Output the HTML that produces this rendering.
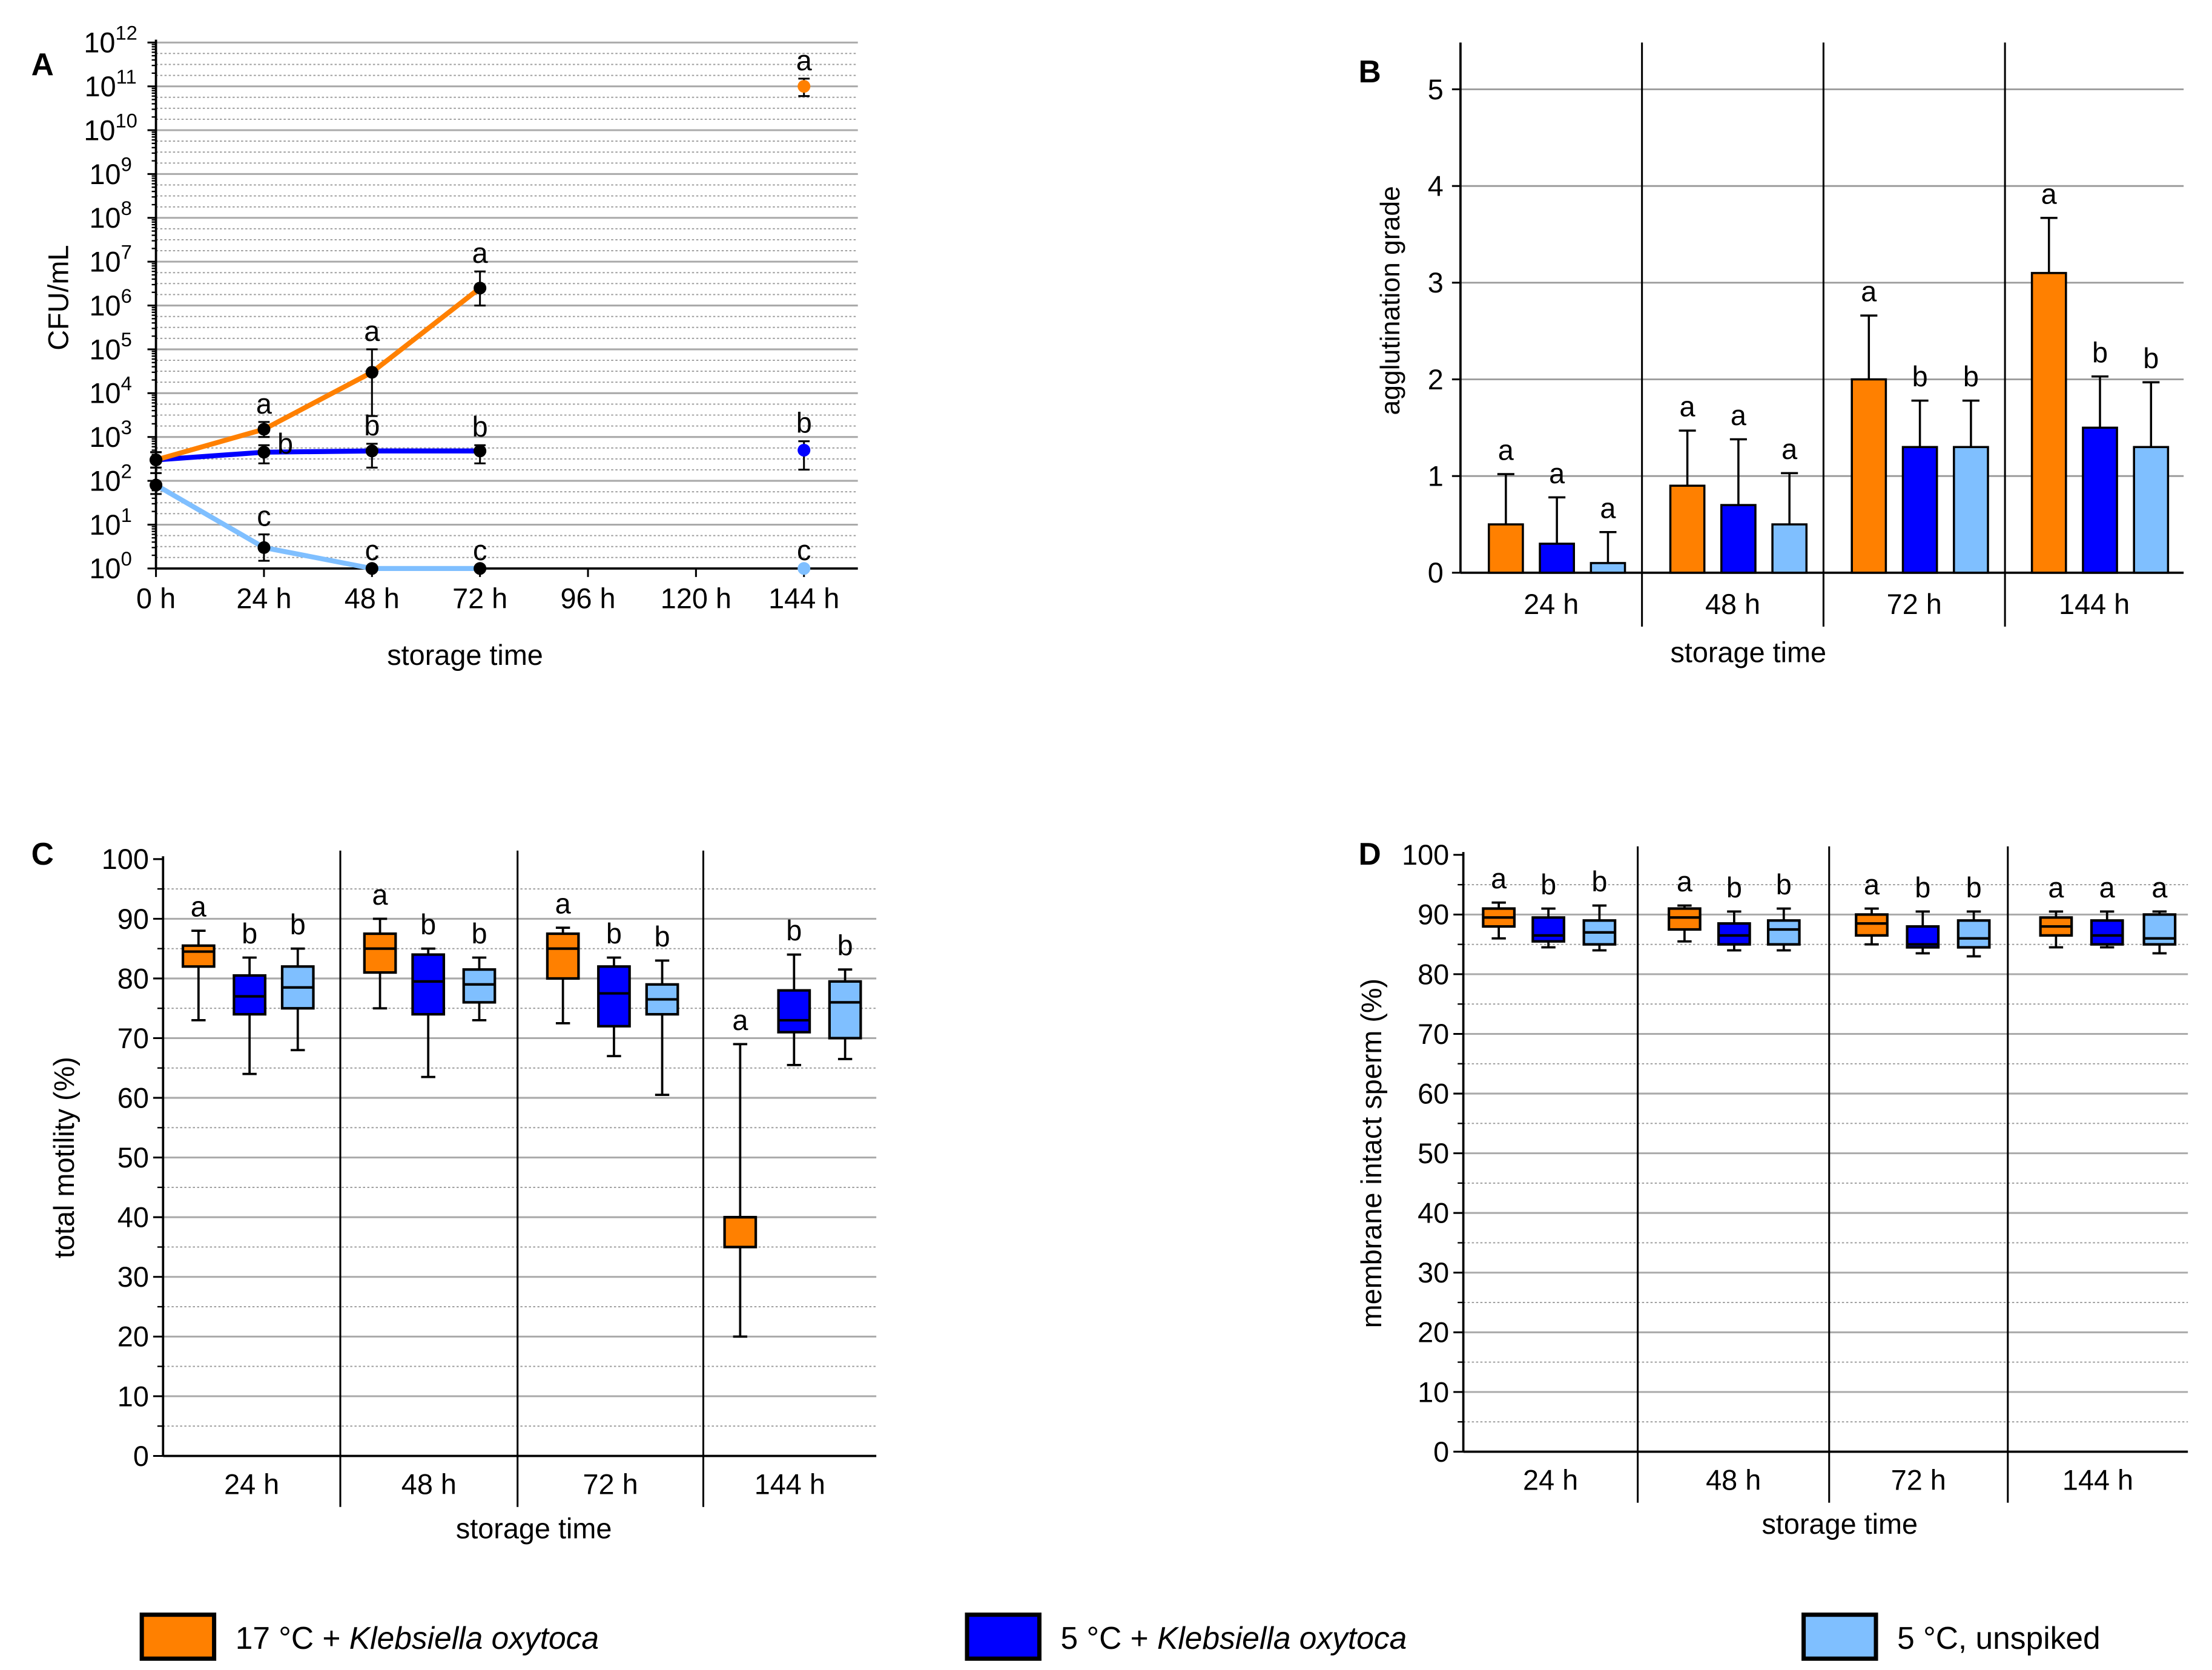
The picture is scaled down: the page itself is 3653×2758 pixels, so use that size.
<!DOCTYPE html>
<html><head><meta charset="utf-8"><style>
html,body{margin:0;padding:0;background:#fff}
svg{display:block;font-family:"Liberation Sans",Arial,sans-serif}
</style></head><body>
<svg id="fig" width="3653" height="2758" viewBox="0 0 1560 1178" preserveAspectRatio="none" xmlns="http://www.w3.org/2000/svg">
<rect width="1560" height="1178" fill="#fff"/>
<g id="A"></g>
<g id="B"></g>
<g id="C"></g>
<g id="D"></g>
<g id="L"></g>
</svg>
<script>
const colors=['#ff8000','#0000ff','#7fbfff'];
const seriesNames=['17 °C + ','5 °C + ','5 °C, unspiked'];
// Panel A
const aHours=[0,24,48,72];
const aOrange=[300,1500,30000,2500000];
const aBlue=[300,450,480,480];
const aLight=[80,3,1,1];
const aOrangeHi=[450,2200,100000,6000000];
const aOrangeLo=[200,1000,3000,1000000];
const aBlueHi=[450,650,700,650];
const aBlueLo=[200,250,200,250];
const aLightHi=[150,6,1,1];
const aLightLo=[50,1.5,1,1];
const aEnd=[1e11,500,1];
const aEndHi=[1.5e11,800,1];
const aEndLo=[6e10,180,1];
const aLetters=[['','a','a','a'],['','b','b','b'],['','c','c','c']];
const aEndLetters=['a','b','c'];
const aXTicks=[0,24,48,72,96,120,144];
// Panel B
const bGroups=['24 h','48 h','72 h','144 h'];
const bMeans=[[0.5,0.9,2.0,3.1],[0.3,0.7,1.3,1.5],[0.1,0.5,1.3,1.3]];
const bErr=[[1.02,1.47,2.66,3.67],[0.78,1.38,1.78,2.03],[0.42,1.03,1.78,1.97]];
const bLetters=[['a','a','a','a'],['a','a','b','b'],['a','a','b','b']];
// Panel C  [min,q1,med,q3,max]
const cBoxes=[
 [[73,82,84.5,85.5,88],[64,74,77,80.5,83.5],[68,75,78.5,82,85]],
 [[75,81,85,87.5,90],[63.5,74,79.5,84,85],[73,76,79,81.5,83.5]],
 [[72.5,80,85,87.5,88.5],[67,72,77.5,82,83.5],[60.5,74,76.5,79,83]],
 [[20,35,40,40,69],[65.5,71,73,78,84],[66.5,70,76,79.5,81.5]]];
const cLetters=[['a','b','b'],['a','b','b'],['a','b','b'],['a','b','b']];
// Panel D
const dBoxes=[
 [[86,88,89.5,91,92],[84.5,85.5,86.5,89.5,91],[84,85,87,89,91.5]],
 [[85.5,87.5,89.5,91,91.5],[84,85,86.5,88.5,90.5],[84,85,87.5,89,91]],
 [[85,86.5,88.5,90,91],[83.5,84.5,85,88,90.5],[83,84.5,86,89,90.5]],
 [[84.5,86.5,88,89.5,90.5],[84.5,85,86.5,89,90.5],[83.5,85,86,90,90.5]]];
const dLetters=[['a','b','b'],['a','b','b'],['a','b','b'],['a','a','a']];
const pctTicks=[0,10,20,30,40,50,60,70,80,90,100];

const NS='http://www.w3.org/2000/svg';
function el(p,tag,a,txt){const e=document.createElementNS(NS,tag);for(const k in a)e.setAttribute(k,a[k]);if(txt!==undefined)e.textContent=txt;p.appendChild(e);return e;}
function line(p,x1,y1,x2,y2,st,w,dash){const e=el(p,'line',{x1,y1,x2,y2,stroke:st,'stroke-width':w||1});if(dash)e.setAttribute('stroke-dasharray',dash);return e;}
function txt(p,x,y,s,size,anchor,extra){const e=el(p,'text',Object.assign({x,y,'font-size':size,'text-anchor':anchor||'middle',fill:'#000'},extra||{}),s);return e;}

// ---------- Panel A
(function(){
const g=document.getElementById('A');
const x0=110,xr=605,yTop=30,yBot=401;
const X=h=>x0+h*(567-x0)/144;
const Y=v=>yBot-Math.log10(v)*(yBot-yTop)/12;
for(let d=0;d<12;d++){for(const f of [0.25,0.5,0.75]){const y=yBot-(d+f)*(yBot-yTop)/12;const l=line(g,x0,y,xr,y,'#999',0.8,'1.5,1.5');}}
for(let d=1;d<=12;d++){const y=Y(Math.pow(10,d));const l=line(g,x0,y,xr,y,'#aaa',1.3);}
line(g,x0,yTop-2,x0,yBot,'#000',1.6);line(g,x0,yBot,xr,yBot,'#000',1.6);
for(let d=0;d<=12;d++){const y=Y(Math.pow(10,d));line(g,x0-6,y,x0,y,'#000',1.3);
 const t=el(g,'text',{x:x0-32,y:y+7,'font-size':20,'text-anchor':'middle'});
 el(t,'tspan',{},'10');el(t,'tspan',{dy:-9,'font-size':14},String(d));
 for(let m=2;m<10;m++){const ym=Y(m*Math.pow(10,d));if(d<12)line(g,x0-3,ym,x0,ym,'#000',1);}}
aXTicks.forEach(h=>{line(g,X(h),yBot,X(h),yBot+6,'#000',1.3);const t=txt(g,X(h),yBot+28,h+' h',20);});
const xt=txt(g,328,469,'storage time',20);
const yt=txt(g,0,0,'CFU/mL',20,'middle',{transform:'translate(48,210) rotate(-90)'});
const pl=txt(g,30,53,'A',22,'middle',{'font-weight':'bold'});
const S=[aOrange,aBlue,aLight],Hi=[aOrangeHi,aBlueHi,aLightHi],Lo=[aOrangeLo,aBlueLo,aLightLo];
[2,1,0].forEach(s=>{const pts=aHours.map((h,i)=>X(h)+','+Y(S[s][i])).join(' ');
 const p=el(g,'polyline',{points:pts,fill:'none',stroke:colors[s],'stroke-width':3.5});});
[0,1,2].forEach(s=>{aHours.forEach((h,i)=>{const x=X(h);const hi=Hi[s][i],lo=Lo[s][i];
 if(hi>S[s][i]){line(g,x,Y(S[s][i]),x,Y(hi),'#000',1.3);line(g,x-4,Y(hi),x+4,Y(hi),'#000',1.3);}
 if(lo<S[s][i]){line(g,x,Y(S[s][i]),x,Y(lo),'#000',1.3);line(g,x-4,Y(lo),x+4,Y(lo),'#000',1.3);}
 const c=el(g,'circle',{cx:x,cy:Y(S[s][i]),r:4.5,fill:'#000'});
 const L=aLetters[s][i];if(L){let lx=x,ly=Y(Math.max(hi,S[s][i]))-6;if(s===1&&i===1){lx=x+15;ly=Y(S[s][i])+1;}const t=txt(g,lx,ly,L,20);}});
 const x=X(144),v=aEnd[s];
 if(aEndHi[s]>v){line(g,x,Y(v),x,Y(aEndHi[s]),'#000',1.3);line(g,x-4,Y(aEndHi[s]),x+4,Y(aEndHi[s]),'#000',1.3);line(g,x,Y(v),x,Y(aEndLo[s]),'#000',1.3);line(g,x-4,Y(aEndLo[s]),x+4,Y(aEndLo[s]),'#000',1.3);}
 const c=el(g,'circle',{cx:x,cy:Y(v),r:4.5,fill:colors[s]});
 const t=txt(g,x,Y(aEndHi[s])-6,aEndLetters[s],20);});
})();

// ---------- Panel B
(function(){
const g=document.getElementById('B');
const x0=1030,xr=1540,yTop=30,yBot=404;
const Y=v=>yBot-v*68.2;
const seps=[1030,1158,1286,1414,1540];
for(let v=1;v<=5;v++){const l=line(g,x0,Y(v),xr,Y(v),'#999',1.2);}
line(g,x0,yTop,x0,yBot,'#000',1.6);line(g,x0,yBot,xr,yBot,'#000',1.6);
for(let i=1;i<4;i++)line(g,seps[i],yTop,seps[i],yBot+38,'#000',1.3);
for(let v=0;v<=5;v++){line(g,x0-6,Y(v),x0,Y(v),'#000',1.3);const t=txt(g,x0-12,Y(v)+7,String(v),20,'end');}
bGroups.forEach((lab,gi)=>{const cx=(seps[gi]+seps[gi+1])/2;const t=txt(g,cx,433,lab,20);
 [0,1,2].forEach(s=>{const bx=cx-32+s*36-12;const v=bMeans[s][gi],e=bErr[s][gi];
  line(g,bx+12,Y(v),bx+12,Y(e),'#000',1.5);line(g,bx+6,Y(e),bx+18,Y(e),'#000',1.5);
  const r=el(g,'rect',{x:bx,y:Y(v),width:24,height:yBot-Y(v),fill:colors[s],stroke:'#000','stroke-width':1.5});
  const l=txt(g,bx+12,Y(e)-10,bLetters[s][gi],20);});});
const xt=txt(g,1233,467,'storage time',20);
const yt=txt(g,0,0,'agglutination grade',19,'middle',{transform:'translate(987,212) rotate(-90)'});
const pl=txt(g,966,58,'B',22,'middle',{'font-weight':'bold'});
})();

// ---------- Box panels
function boxPanel(id,x0,xr,yTop,yBot,seps,centers,boxes,letters,label,ytitle,ytx,pl){
const g=document.getElementById(id);
const Y=v=>yBot-v*(yBot-yTop)/100;
for(let v=5;v<100;v+=10){const l=line(g,x0,Y(v),xr,Y(v),'#999',0.8,'1.5,1.5');}
for(let v=10;v<=90;v+=10){const l=line(g,x0,Y(v),xr,Y(v),'#aaa',1.3);}
line(g,x0,yTop-2,x0,yBot,'#000',1.6);line(g,x0,yBot,xr,yBot,'#000',1.6);
seps.forEach(sx=>line(g,sx,yTop-6,sx,yBot+36,'#000',1.3));
pctTicks.forEach(v=>{line(g,x0-7,Y(v),x0,Y(v),'#000',1.3);if(v<100)line(g,x0-4,Y(v+5),x0,Y(v+5),'#000',1);const t=txt(g,x0-10,Y(v)+7,String(v),20,'end');});
const bounds=[x0].concat(seps,[xr]);
bGroups.forEach((lab,gi)=>{const t=txt(g,(bounds[gi]+bounds[gi+1])/2,yBot+27,lab,20);
 [0,1,2].forEach(s=>{const b=boxes[gi][s],cx=centers[gi][s];
  line(g,cx,Y(b[0]),cx,Y(b[4]),'#000',1.6);line(g,cx-5,Y(b[0]),cx+5,Y(b[0]),'#000',1.6);line(g,cx-5,Y(b[4]),cx+5,Y(b[4]),'#000',1.6);
  const r=el(g,'rect',{x:cx-11,y:Y(b[3]),width:22,height:Y(b[1])-Y(b[3]),fill:colors[s],stroke:'#000','stroke-width':1.8});
  line(g,cx-11,Y(b[2]),cx+11,Y(b[2]),'#000',1.8);
  const l=txt(g,cx,Y(b[4])-10,letters[gi][s],20);});});
const xt=txt(g,(x0+xr)/2+10,yBot+58,'storage time',20);
const yt=txt(g,0,0,ytitle,20,'middle',{transform:`translate(${ytx},${(yTop+yBot)/2}) rotate(-90)`});
const p=txt(g,pl[0],pl[1],label,22,'middle',{'font-weight':'bold'});
}
boxPanel('C',115,618,606,1027,[240,365,496],[[140,176,210],[268,302,338],[397,433,467],[522,560,596]],cBoxes,cLetters,'C','total motility (%)',52,[30,610]);
boxPanel('D',1032,1543,603,1024,[1155,1290,1416],[[1057,1092,1128],[1188,1223,1258],[1320,1356,1392],[1450,1486,1523]],dBoxes,dLetters,'D','membrane intact sperm (%)',974,[966,610]);

// ---------- Legend
(function(){
const g=document.getElementById('L');
const xs=[100,682,1272];
[0,1,2].forEach(s=>{const x=xs[s];
 const r=el(g,'rect',{x:x,y:1139,width:51,height:31,fill:colors[s],stroke:'#000','stroke-width':3});
 const t=el(g,'text',{x:x+66,y:1163,'font-size':22,fill:'#000'});
 el(t,'tspan',{},seriesNames[s]);if(s<2)el(t,'tspan',{'font-style':'italic'},'Klebsiella oxytoca');});
})();
</script>
</body></html>
